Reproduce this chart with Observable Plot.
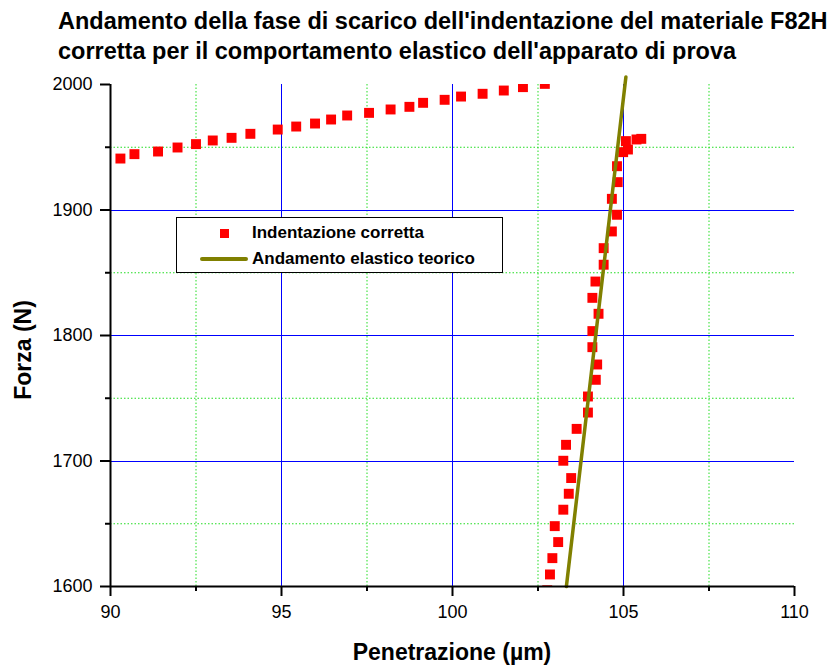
<!DOCTYPE html>
<html>
<head>
<meta charset="utf-8">
<script src="https://cdn.jsdelivr.net/npm/d3@7"></script>
<script src="https://cdn.jsdelivr.net/npm/@observablehq/plot@0.6"></script>
<style>
  html, body { margin: 0; padding: 0; background: #fff; }
  body { width: 829px; height: 666px; position: relative; overflow: hidden;
         font-family: "Liberation Sans", Arial, sans-serif; color: #000; }
  #title { position: absolute; left: 58px; top: 7px; font-weight: bold; font-size: 23.5px;
           line-height: 29.5px; white-space: nowrap; }
  #chart { position: absolute; left: 0; top: 70px; }
  .ylabel { position: absolute; left: 23px; top: 350px; font-weight: bold; font-size: 23px;
            transform: translate(-50%, -50%) rotate(-90deg); white-space: nowrap; }
  .xlabel { position: absolute; left: 452px; top: 652px; font-weight: bold; font-size: 23px;
            transform: translate(-50%, -50%); white-space: nowrap; }
  .legend { position: absolute; left: 176px; top: 217px; width: 325px; height: 54px;
            border: 1.5px solid #000; background: #fff; font-weight: bold; font-size: 17px; }
  .legend .swatch { position: absolute; }
  .legend .txt { position: absolute; left: 75px; white-space: nowrap; }
</style>
</head>
<body>
<div id="title">Andamento della fase di scarico dell'indentazione del materiale F82H<br>corretta per il comportamento elastico dell'apparato di prova</div>
<div id="chart"></div>
<div class="ylabel">Forza (N)</div>
<div class="xlabel">Penetrazione (µm)</div>
<div class="legend" id="legend"></div>
<script>
// Measured unloading data: penetration (µm) and force (N)
const penetrazione = [
  90.29, 90.70, 91.39, 91.96, 92.50, 92.99, 93.54, 94.09, 94.89, 95.43,
  95.98, 96.45, 96.92, 97.56, 98.19, 98.74, 99.14, 99.77, 100.25, 100.88,
  101.50, 102.06, 102.70,
  105.52, 105.38, 105.07, 105.13, 104.99, 104.81, 104.83, 104.66, 104.81, 104.66,
  104.42, 104.42, 104.18, 104.09, 104.27, 104.09, 104.09, 104.23, 104.19, 103.96,
  103.96, 103.63, 103.32, 103.24, 103.47, 103.40, 103.24, 102.99, 103.09, 102.92,
  102.85, 102.77
];
const forza = [
  1941.0, 1944.5, 1946.6, 1949.8, 1952.5, 1955.4, 1957.5, 1960.7, 1964.1, 1966.5,
  1968.9, 1972.1, 1975.3, 1977.4, 1980.1, 1982.2, 1985.4, 1987.8, 1990.4, 1992.6,
  1995.2, 1997.9, 2000.5,
  1956.7, 1956.2, 1954.9, 1948.2, 1946.1, 1934.9, 1922.2, 1908.9, 1896.2, 1882.9,
  1869.6, 1856.4, 1843.0, 1830.0, 1817.3, 1803.5, 1790.7, 1776.9, 1764.7, 1751.4,
  1738.6, 1725.6, 1712.9, 1700.2, 1686.4, 1673.9, 1661.2, 1648.1, 1635.4, 1622.6,
  1609.6, 1597.0
];

// Theoretical elastic line
const teoricoX = [103.33, 105.07];
const teoricoY = [1600, 2006];

// Axis ticks
const xMajor = [90, 95, 100, 105, 110];
const xMinor = [92.5, 97.5, 102.5, 107.5];
const yMajor = [1600, 1700, 1800, 1900, 2000];
const yMinor = [1650, 1750, 1850, 1950];

const legendLabels = ["Indentazione corretta", "Andamento elastico teorico"];

const punti = penetrazione.map((x, i) => ({x, y: forza[i]}));
const teorico = teoricoX.map((x, i) => ({x, y: teoricoY[i]}));

const red = "#ff0000";
const olive = "#808000";
const blue = "#0000ff";
const green = "#22dd22";
const fmt = d => String(d);

const chart = Plot.plot({
  width: 829,
  height: 596,
  marginTop: 14,
  marginBottom: 80,
  marginLeft: 110,
  marginRight: 35,
  style: {fontFamily: "'Liberation Sans', Arial, sans-serif", fontSize: "18px", color: "#000", background: "transparent", overflow: "visible"},
  x: {domain: [90, 110]},
  y: {domain: [1600, 2000]},
  marks: [
    // grid
    Plot.ruleX(xMinor, {x: d => d, stroke: green, strokeWidth: 1, strokeDasharray: "1.5,2"}),
    Plot.ruleY(yMinor, {y: d => d, stroke: green, strokeWidth: 1, strokeDasharray: "1.5,2"}),
    Plot.ruleX(xMajor.filter(v => v > 90 && v < 110), {x: d => d, stroke: blue, strokeWidth: 1, shapeRendering: "crispEdges"}),
    Plot.ruleY(yMajor.filter(v => v > 1600 && v < 2000), {y: d => d, stroke: blue, strokeWidth: 1, shapeRendering: "crispEdges"}),
    // data
    Plot.dot(punti, {x: "x", y: "y", symbol: "square", r: 5.6, fill: red, stroke: "none", clip: true}),
    Plot.line(teorico, {x: "x", y: "y", stroke: olive, strokeWidth: 3.5}),
    // axes
    Plot.axisX({ticks: xMajor, tickSize: 10, tickPadding: 9, strokeWidth: 2, label: null, tickFormat: fmt, fontSize: 18}),
    Plot.axisX({ticks: xMinor, tickSize: 5, strokeWidth: 2, tickFormat: () => "", label: null}),
    Plot.axisY({ticks: yMajor, tickSize: 10, tickPadding: 8, strokeWidth: 2, label: null, tickFormat: fmt, fontSize: 18}),
    Plot.axisY({ticks: yMinor, tickSize: 5, strokeWidth: 2, tickFormat: () => "", label: null}),
    Plot.ruleY([1600], {y: d => d, stroke: "#000", strokeWidth: 2}),
    Plot.ruleX([90], {x: d => d, stroke: "#000", strokeWidth: 2})
  ]
});
document.getElementById("chart").appendChild(chart);

// legend
const legend = document.getElementById("legend");
legend.innerHTML = `
  <div class="swatch" style="left:43px;top:11px;width:9px;height:9px;background:${red}"></div>
  <div class="txt" style="top:5px">${legendLabels[0]}</div>
  <div class="swatch" style="left:23px;top:38.5px;width:48px;height:4px;background:${olive};border-radius:2px"></div>
  <div class="txt" style="top:31px">${legendLabels[1]}</div>
`;
</script>
</body>
</html>
